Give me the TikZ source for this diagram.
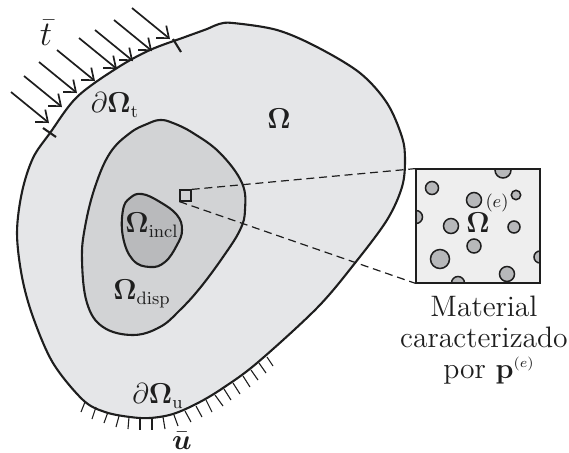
\documentclass[tikz,border=0pt]{standalone}
\usepackage{amsmath}
\usetikzlibrary{arrows.meta}
\DeclareMathSizes{14}{14}{8.7}{7}
\DeclareMathSizes{14.8}{14.8}{8.7}{7}
\definecolor{outerfill}{HTML}{E5E6E8}
\definecolor{dispfill}{HTML}{D2D3D5}
\definecolor{inclfill}{HTML}{B9BABC}
\definecolor{cellfill}{HTML}{EEEEEE}
\definecolor{poreshade}{HTML}{B7B8BA}
\definecolor{inkline}{HTML}{1E1E1E}
\tikzset{
	contour/.style={draw=inkline, line width=1.05pt},
	pore/.style={draw=inkline, line width=0.75pt, fill=poreshade},
	load/.style={-{Straight Barb[length=5pt, width=8pt]}, line width=0.85pt, draw=inkline},
	hatch/.style={line width=0.55pt, draw=inkline},
	zoomline/.style={dash pattern=on 4pt off 2.4pt, line width=0.6pt, draw=inkline},
	lbl/.style={font=\fontsize{14}{17}\selectfont, text=inkline, inner sep=0pt},
}
\begin{document}
\begin{tikzpicture}[x=0.5pt, y=-0.5pt]
	\useasboundingbox (0,0) rectangle (569,452);

	% Outer domain
	\draw[contour, fill=outerfill] plot[smooth cycle, tension=0.55] coordinates {
		(207,29) (219,24) (233,23) (277,30) (317,47) (360,73) (387,103) (402,137) (405,160)
		(402,187) (387,220) (355,263) (317,308) (257,363) (223,388) (198,403) (173,414) (150,418) (130,417)
		(105,412) (83,400) (53,363) (33,317) (22,277) (17,233) (22,192) (33,158) (50,133) (77,97) (117,68)
		(150,50) (185,37)};

	% Dispersed zone
	\draw[contour, fill=dispfill] plot[smooth cycle, tension=0.65] coordinates {
		(160,120) (147,124) (130,133) (110,153) (95,187) (85,227) (82,260) (87,303) (103,327)
		(133,335) (160,327) (180,310) (200,288) (223,257) (240,230) (245,210) (242,183) (220,153)
		(193,133) (173,123)};

	% Inclusion zone
	\draw[contour, fill=inclfill] plot[smooth cycle, tension=0.7] coordinates {
		(142,194) (130,198) (123,210) (123,237) (133,260) (150,267) (165,262) (177,245)
		(182,230) (177,215) (160,202)};

	% Loads on the boundary
	\foreach \tx/\ty in {49/123, 62/107, 77/93, 95/81, 117/69, 133/61, 152/51, 170/39}
		\draw[load] (\tx-38,\ty-31) -- (\tx,\ty);
	\draw[contour] (43,128) -- (56,137);
	\draw[contour] (173,39) -- (181,52);

	% Fixed boundary
	\foreach \xa/\ya/\xb/\yb in {85/402/81/412, 96/407/92/419, 108/412/104/423, 119/416/116/427,
		129/417/128/429, 140/418/140/430, 152/418/152/430, 163/417/165/429, 174/415/178/426,
		185/411/191/422, 196/406/202/417, 206/400/212/412, 215/395/223/406, 224/389/231/400,
		233/383/240/394, 243/376/250/387, 251/370/258/380, 259/363/266/373, 267/357/273/366}
		\draw[hatch] (\xa,\ya) -- (\xb,\yb);

	% Unit cell
	\node[fill=cellfill, minimum width=62pt, minimum height=57pt, inner sep=0pt] (cell) at (478,226) {};
	\begin{scope}
		\clip (cell.south west) rectangle (cell.north east);
		\foreach \cx/\cy/\rad in {432/188/6.5, 474/200/7.5, 516/195/4.7, 503/170/8, 416/217/6.5,
			451/226/7.5, 514/227/6, 474/246/7, 440/259/9.5, 507/274/7.5, 458/283/6.5, 540/257/6}
			\draw[pore] (\cx,\cy) circle[radius=\rad];
	\end{scope}
	\draw[line width=1pt, draw=inkline] (cell.south west) rectangle (cell.north east);

	% Zoom window and its two lines
	\node[draw=inkline, fill=dispfill, line width=0.9pt, minimum size=5.2pt, inner sep=0pt] (spot) at (185.5,195.5) {};
	\draw[zoomline] (spot.north east) -- (cell.north west);
	\draw[zoomline] (spot.south west) -- (cell.south west);

	% Labels
	\node[lbl, font=\LARGE] (tbar) at (46,33) {$\bar{t}$};
	\node[lbl] (gammat) at (115,105) {$\partial\mathbf{\Omega}_{\mathrm{t}}$};
	\node[lbl] (omega) at (279,119) {$\mathbf{\Omega}$};
	\node[lbl] (incl) at (152,225) {$\mathbf{\Omega}_{\mathrm{incl}}$};
	\node[lbl] (disp) at (142,294) {$\mathbf{\Omega}_{\mathrm{disp}}$};
	\node[lbl] (gammau) at (158,396) {$\partial\mathbf{\Omega}_{\mathrm{u}}$};
	\node[lbl, font=\Large] (ubar) at (182,441) {$\bar{\boldsymbol{u}}$};
	\node[lbl] (omegae) at (478,223) {$\mathbf{\Omega}$};
	\node[font=\small, text=inkline, inner sep=0pt] (supe) at (497,203) {$(e)$};
	\node[lbl, align=center, font=\fontsize{14.8}{15.4}\selectfont] (caption) at (484,340) {Material\\caracterizado\\\hspace*{5pt}por $\mathbf{p}^{\scriptscriptstyle(e)}$};
\end{tikzpicture}
\end{document}
